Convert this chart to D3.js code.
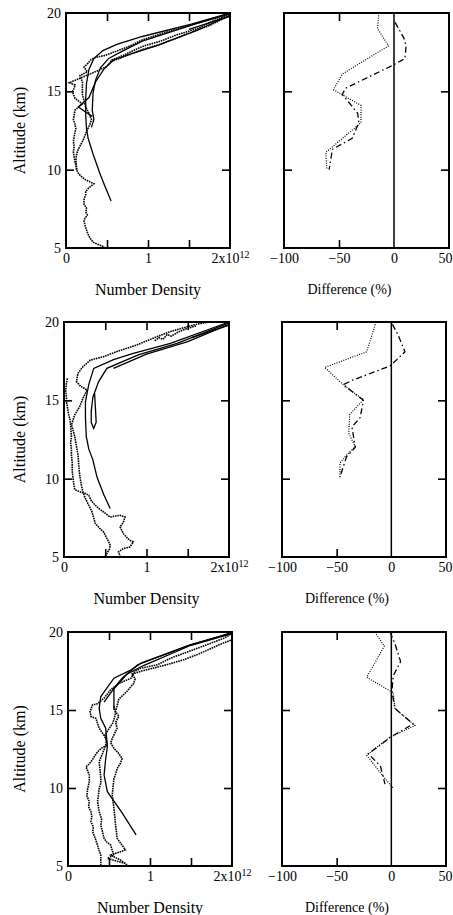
<!DOCTYPE html>
<html>
<head>
<meta charset="utf-8">
<script src="https://cdn.jsdelivr.net/npm/d3@7"></script>
<style>
  body { margin: 0; background: #fff; }
  svg { display: block; }
  text { font-family: "Liberation Serif", "Times New Roman", serif; fill: #000; }
</style>
</head>
<body>
<div id="chart"></div>
<script>
// ---- data: [number density (1e12), altitude km] and [difference %, altitude km]
const densityTicks = [0.5, 1, 1.5];
const densityLabels = [0, 1, 2];
const diffTicks = [-50];
const diffLabels = [-100, -50, 0, 50];
const altTicks = [10, 15];
const altLabels = [5, 10, 15, 20];

// row 1
const r1Retrievals = [
  [[0.55,8.0],[0.47,9.0],[0.41,9.8],[0.33,11.0],[0.27,12.0],[0.25,12.6],[0.24,13.5],[0.24,14.5],[0.25,15.5],[0.28,16.4],[0.34,17.1],[0.45,17.6],[0.62,18.0],[0.93,18.5],[1.54,19.3],[2.0,20.0]],
  [[0.31,12.7],[0.34,13.2],[0.32,13.8],[0.33,14.9],[0.36,15.7],[0.42,16.5],[0.52,17.1],[0.7,17.6],[0.93,18.2],[1.58,19.3],[2.0,19.95]],
  [[0.32,13.4],[0.15,14.0],[0.28,14.6],[0.36,15.6],[0.46,16.4],[0.58,17.0],[0.8,17.4],[1.1,17.9],[1.6,18.9],[2.0,19.85]],
  [[1.5,18.95],[2.0,19.8]]
];
const r1InSitu = [
  [[0.48,5.0],[0.45,5.1],[0.38,5.25],[0.34,5.35],[0.31,5.5],[0.28,5.75],[0.26,6.0],[0.24,6.3],[0.22,6.7],[0.23,6.9],[0.26,7.1],[0.24,7.3],[0.25,7.55],[0.22,7.8],[0.22,8.1],[0.24,8.4],[0.24,8.6],[0.28,8.85],[0.34,9.1],[0.3,9.2],[0.24,9.35],[0.2,9.5],[0.17,9.65],[0.14,9.85],[0.13,10.0],[0.12,10.3],[0.11,10.5],[0.1,10.8],[0.09,11.15],[0.1,11.5],[0.09,11.8],[0.1,12.1],[0.11,12.4],[0.12,12.6],[0.11,12.9],[0.09,13.2],[0.1,13.5],[0.11,13.8],[0.2,14.2],[0.11,14.55],[0.09,14.8],[0.08,15.0],[0.1,15.2],[0.11,15.4],[0.04,15.55],[0.2,15.9],[0.38,16.3],[0.5,16.6],[0.56,17.0],[0.7,17.3],[0.82,17.6],[0.95,17.9],[1.15,18.2],[1.35,18.6],[1.6,19.0],[1.8,19.5],[2.0,19.9]],
  [[0.13,10.0],[0.12,10.6],[0.13,11.0],[0.15,11.3],[0.18,11.6],[0.21,11.9],[0.24,12.3],[0.27,12.65],[0.3,13.0],[0.31,13.2],[0.28,13.6],[0.24,14.0],[0.22,14.4],[0.2,14.8],[0.2,15.2],[0.2,15.6],[0.17,16.0],[0.26,16.25],[0.22,16.55],[0.27,16.8],[0.3,17.0],[0.35,17.15],[0.48,17.3],[0.76,17.85],[0.93,18.28],[1.17,18.7],[1.37,19.0],[1.66,19.45],[1.98,19.95]],
  [[0.55,16.9],[0.65,17.1],[0.75,17.3],[0.85,17.5],[0.95,17.7],[1.05,17.85],[1.15,18.0],[1.2,18.1],[1.3,18.3],[1.45,18.6],[1.6,18.9],[1.75,19.2],[1.9,19.6],[2.0,19.8]]
];
const r1DiffDotted = [[-13.7,20],[-15,19],[-5,17.9],[-47,16.1],[-55,15.1],[-30,14.1],[-30,13.0],[-62,11.1],[-61,10.0]];
const r1DiffDashDot = [[1,19.4],[9,18.4],[11,17.9],[10,17.1],[0,16.7],[-44,15.2],[-47,14.8],[-33,13.6],[-32,13.0],[-38,12.0],[-56,11.3],[-59,10.0]];

// row 2
const r2Retrievals = [
  [[0.56,8.1],[0.48,9.0],[0.4,10.1],[0.35,11.2],[0.3,11.9],[0.27,12.7],[0.26,13.9],[0.26,14.9],[0.3,16.0],[0.36,17.04],[0.6,17.6],[0.84,18.0],[1.29,18.64],[2.0,20.0]],
  [[0.37,15.5],[0.38,14.6],[0.39,13.6],[0.36,13.2],[0.33,13.6],[0.33,14.3],[0.35,15.2],[0.42,16.2],[0.52,17.04],[0.9,17.9],[1.37,18.64],[2.0,19.95]],
  [[0.6,17.04],[1.0,17.95],[1.5,18.75],[2.0,19.85]],
  [[1.55,19.0],[2.0,19.8]]
];
const r2InSitu = [
  [[0.04,16.4],[0.03,16.1],[0.02,15.6],[0.03,15.2],[0.03,14.9],[0.04,14.6],[0.05,14.3],[0.06,14.0],[0.07,13.85],[0.08,13.4],[0.09,12.7],[0.08,12.3],[0.09,11.9],[0.09,11.5],[0.1,11.0],[0.1,10.5],[0.11,10.0],[0.12,9.6],[0.13,9.3],[0.2,9.15],[0.26,9.05],[0.3,8.94],[0.33,8.6],[0.36,8.41],[0.42,8.1],[0.48,7.87],[0.56,7.55],[0.62,7.62],[0.68,7.66],[0.74,7.55],[0.72,7.23],[0.68,6.92],[0.7,6.7],[0.72,6.49],[0.76,6.25],[0.8,6.06],[0.84,5.96],[0.8,5.64],[0.72,5.54],[0.66,5.32],[0.68,5.06]],
  [[0.5,5.05],[0.52,5.22],[0.55,5.5],[0.56,5.75],[0.54,6.0],[0.52,6.18],[0.5,6.4],[0.48,6.6],[0.43,6.85],[0.38,7.13],[0.36,7.5],[0.34,7.87],[0.31,8.2],[0.28,8.51],[0.25,8.85],[0.23,9.15],[0.21,9.6],[0.19,10.22],[0.18,10.8],[0.17,11.5],[0.15,12.1],[0.13,12.7],[0.11,13.1],[0.09,13.43],[0.13,14.07],[0.19,14.6],[0.23,15.13],[0.28,15.66],[0.2,15.9],[0.15,16.2],[0.17,16.73],[0.23,17.15],[0.32,17.57],[0.48,17.79],[0.64,18.11],[0.88,18.53],[1.13,19.07],[1.29,19.39],[1.57,19.81],[1.75,20.0]],
  [[1.1,18.8],[1.15,19.0],[1.2,18.9],[1.25,19.2],[1.3,19.1],[1.4,19.4],[1.5,19.6],[1.6,19.75]]
];
const r2DiffDotted = [[-14,20],[-22.5,18.1],[-61,17.1],[-44,16.0],[-25.5,15.04],[-38,14.1],[-39,12.9],[-33,12.05],[-41,11.5],[-47,11.0],[-47,10.0]];
const r2DiffDashDot = [[1,19.85],[6,19.2],[12.5,18.1],[5,17.6],[-1,17.2],[-35,16.3],[-44,16.0],[-25.5,15.0],[-28.5,13.9],[-36,13.3],[-33,12.0],[-41,11.4],[-47,10.1]];

// row 3
const r3Retrievals = [
  [[0.83,7.0],[0.66,8.4],[0.48,9.76],[0.44,10.83],[0.46,11.89],[0.48,12.64],[0.46,13.83],[0.4,14.47],[0.38,15.1],[0.4,15.86],[0.56,17.04],[0.77,17.57],[0.89,18.0],[1.49,19.17],[1.98,19.92]],
  [[0.56,15.0],[0.56,15.97],[0.56,16.4],[0.66,17.04],[0.85,17.9],[1.45,19.1],[2.0,19.95]],
  [[0.44,15.5],[0.55,16.3],[0.72,17.3],[0.92,17.85],[1.5,19.15],[2.0,19.9]]
];
const r3InSitu = [
  [[0.4,5.02],[0.4,5.4],[0.4,5.7],[0.38,6.0],[0.36,6.34],[0.33,6.8],[0.3,7.2],[0.31,7.5],[0.28,7.84],[0.29,8.2],[0.28,8.48],[0.25,8.8],[0.26,9.12],[0.23,9.5],[0.24,9.97],[0.26,10.4],[0.26,10.83],[0.22,11.36],[0.25,11.5],[0.28,11.68],[0.32,12.0],[0.36,12.32],[0.42,12.6],[0.48,12.74],[0.46,13.2],[0.38,13.83],[0.34,14.47],[0.28,14.58],[0.27,14.9],[0.3,15.33],[0.36,15.4],[0.44,15.76],[0.52,16.29],[0.62,16.7],[0.77,17.04],[0.81,17.46],[0.89,17.68],[1.09,17.9],[1.25,18.32],[1.58,18.96],[1.9,19.6],[2.0,19.9]],
  [[0.7,5.17],[0.6,5.3],[0.48,5.49],[0.56,5.7],[0.54,6.0],[0.52,6.34],[0.47,6.55],[0.44,6.77],[0.42,7.2],[0.4,7.62],[0.41,8.0],[0.38,8.5],[0.36,9.12],[0.37,9.5],[0.38,9.97],[0.4,10.3],[0.4,10.61],[0.39,11.2],[0.38,11.68],[0.42,12.2],[0.45,12.6],[0.47,13.0],[0.45,13.4],[0.5,13.8],[0.55,14.2],[0.58,14.8],[0.56,15.3]],
  [[0.72,5.06],[0.64,5.38],[0.52,5.7],[0.6,5.85],[0.7,6.03],[0.65,6.4],[0.6,6.77],[0.59,7.2],[0.58,7.62],[0.57,8.2],[0.56,8.7],[0.55,9.1],[0.54,9.55],[0.55,10.1],[0.56,10.61],[0.58,10.9],[0.6,11.25],[0.64,11.6],[0.66,11.89],[0.62,12.2],[0.56,12.54],[0.52,12.9],[0.55,13.3],[0.6,13.83],[0.58,14.2],[0.62,14.6],[0.58,14.9],[0.6,15.3],[0.62,15.7],[0.72,16.2],[0.8,16.7],[0.82,17.0],[0.78,17.3],[0.9,17.5],[1.05,17.7],[1.2,17.9],[1.4,18.2],[1.6,18.6],[1.85,19.2],[2.0,19.5]]
];
const r3DiffDotted = [[-15,20],[-6.4,19.1],[-22.5,17.1],[1.8,16.1],[3.3,15.1],[21.6,14.0],[-1.2,13.25],[-8,12.9],[-22.5,12.1],[-5.8,10.6],[1.8,10.0]];
const r3DiffDashDot = [[-1.2,20],[3.3,19.25],[8.5,18.1],[1.8,17.2],[0.5,16.2],[3.3,15.1],[20,14.1],[-1.2,13.25],[-7.3,12.9],[-21,12.2],[-10,11.4],[-5.8,10.25]];

const rows = [
  { ret: r1Retrievals, ins: r1InSitu, dot: r1DiffDotted, dash: r1DiffDashDot },
  { ret: r2Retrievals, ins: r2InSitu, dot: r2DiffDotted, dash: r2DiffDashDot },
  { ret: r3Retrievals, ins: r3InSitu, dot: r3DiffDotted, dash: r3DiffDashDot }
];

// panel boxes in pixels
const boxes = [
  { top: 13, bottom: 248, l: [66, 230], r: [284, 449] },
  { top: 322, bottom: 557, l: [64, 229], r: [282, 446] },
  { top: 632, bottom: 866, l: [68, 232], r: [282, 446] }
];

const W = 453;
const svg = d3.select('#chart').append('svg').attr('width', W).attr('height', 915);

function ticksAll(g, x, y, xt) {
  const [b, t] = y.range(), [l, r] = x.range();
  const axes = [
    [d3.axisBottom(x).tickValues(xt), `translate(0,${b})`],
    [d3.axisTop(x).tickValues(xt), `translate(0,${t})`],
    [d3.axisLeft(y).tickValues(altTicks), `translate(${l},0)`],
    [d3.axisRight(y).tickValues(altTicks), `translate(${r},0)`]
  ];
  axes.forEach(([ax, tr]) => {
    const a = g.append('g').attr('transform', tr).call(ax.tickSize(-8).tickFormat(''));
    a.select('.domain').remove();
    a.selectAll('line').attr('stroke-width', 1.6);
  });
  g.append('rect').attr('x', l).attr('y', t).attr('width', r - l).attr('height', b - t)
    .attr('fill', 'none').attr('stroke', '#000').attr('stroke-width', 2);
}

function labelAxis(g, axis, tr) {
  const a = g.append('g').attr('transform', tr)
    .call(axis.tickSize(0).tickPadding(5))
    .attr('font-family', null).attr('font-size', 14);
  a.select('.domain').remove();
  return a;
}

rows.forEach((row, i) => {
  const bx = boxes[i];
  const g = svg.append('g');
  const y = d3.scaleLinear().domain([5, 20]).range([bx.bottom, bx.top]);

  // ---- left: number density
  const x = d3.scaleLinear().domain([0, 2]).range(bx.l);
  const line = d3.line().x(d => x(d[0])).y(d => y(d[1]));

  row.ins.forEach(s => g.append('path').datum(s).attr('d', line)
    .attr('fill', 'none').attr('stroke', '#000').attr('stroke-width', 1.6)
    .attr('stroke-dasharray', '1.6,0.8'));
  row.ret.forEach(s => g.append('path').datum(s).attr('d', line)
    .attr('fill', 'none').attr('stroke', '#000').attr('stroke-width', 1.3));

  ticksAll(g, x, y, densityTicks);
  const xl = labelAxis(g, d3.axisBottom(x).tickValues(densityLabels).tickFormat(d3.format('d')), `translate(0,${bx.bottom})`);
  xl.selectAll('.tick text').filter(d => d === 2).text(null).call(t => {
    t.append('tspan').text('2x10');
    t.append('tspan').attr('dy', '-0.45em').attr('font-size', 10).text('12');
  });
  labelAxis(g, d3.axisLeft(y).tickValues(altLabels).tickFormat(d3.format('d')), `translate(${bx.l[0]},0)`);

  g.append('text').attr('x', (bx.l[0] + bx.l[1]) / 2).attr('y', bx.bottom + 47)
    .attr('text-anchor', 'middle').attr('font-size', 16).text('Number Density');
  g.append('text').attr('transform', `translate(25,${(bx.top + bx.bottom) / 2}) rotate(-90)`)
    .attr('text-anchor', 'middle').attr('font-size', 16).text('Altitude (km)');

  // ---- right: difference
  const xd = d3.scaleLinear().domain([-100, 50]).range(bx.r);
  const dline = d3.line().x(d => xd(d[0])).y(d => y(d[1]));

  g.append('line').attr('x1', xd(0)).attr('x2', xd(0)).attr('y1', y(5)).attr('y2', y(20))
    .attr('stroke', '#000').attr('stroke-width', 1.5);
  g.append('path').datum(row.dot).attr('d', dline).attr('fill', 'none')
    .attr('stroke', '#000').attr('stroke-width', 1.2).attr('stroke-dasharray', '1,1.4');
  g.append('path').datum(row.dash).attr('d', dline).attr('fill', 'none')
    .attr('stroke', '#000').attr('stroke-width', 1.3).attr('stroke-dasharray', '6,3,1.5,3');

  ticksAll(g, xd, y, diffTicks);
  const dl = labelAxis(g, d3.axisBottom(xd).tickValues(diffLabels).tickFormat(d3.format('d')), `translate(0,${bx.bottom})`);
  // keep the last label inside the page
  dl.selectAll('.tick text').each(function () {
    const bb = this.getBBox();
    const right = xd(d3.select(this).datum()) + bb.x + bb.width;
    if (right > W - 1) d3.select(this).attr('x', W - 1 - right);
  });
  g.append('text').attr('x', (bx.r[0] + bx.r[1]) / 2 - 17).attr('y', bx.bottom + 46)
    .attr('text-anchor', 'middle').attr('font-size', 14).text('Difference (%)');
});
</script>
</body>
</html>
